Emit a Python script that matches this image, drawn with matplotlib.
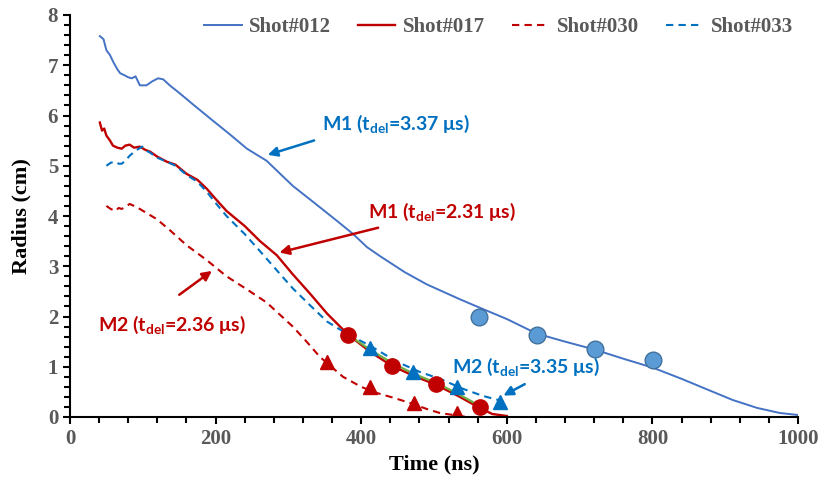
import matplotlib
matplotlib.use('Agg')
import matplotlib.pyplot as plt
from matplotlib.ticker import MultipleLocator

# time (ns) / radius (cm)
t012 = [41, 46, 50, 55, 60, 65, 69, 75, 80, 85, 90, 96, 105, 113, 121, 128, 137, 150, 169, 196,
        220, 243, 270, 306, 334, 367, 389, 408, 426, 460, 490, 536, 562, 600, 641, 680, 721, 760,
        801, 840, 875, 910, 944, 975, 1000]
r012 = [7.58, 7.52, 7.3, 7.2, 7.05, 6.92, 6.84, 6.8, 6.76, 6.74, 6.78, 6.6, 6.6, 6.68, 6.74, 6.72,
        6.6, 6.45, 6.22, 5.9, 5.62, 5.34, 5.1, 4.6, 4.28, 3.9, 3.64, 3.38, 3.2, 2.88, 2.64, 2.34,
        2.18, 1.95, 1.66, 1.5, 1.34, 1.16, 0.98, 0.76, 0.55, 0.34, 0.18, 0.08, 0.04]

t017 = [41, 44, 47, 50, 55, 59, 65, 71, 76, 82, 88, 96, 103, 110, 120, 133, 145, 160, 175, 188,
        200, 215, 240, 261, 284, 306, 330, 353, 382, 412, 442, 472, 503, 533, 563, 580, 600]
r017 = [5.86, 5.7, 5.74, 5.6, 5.5, 5.4, 5.36, 5.34, 5.4, 5.42, 5.36, 5.38, 5.32, 5.28, 5.18, 5.08,
        5.02, 4.84, 4.72, 4.54, 4.34, 4.1, 3.8, 3.5, 3.22, 2.84, 2.45, 2.06, 1.64, 1.3, 1.02, 0.82,
        0.64, 0.42, 0.18, 0.06, 0.02]

t030 = [50, 56, 62, 67, 71, 76, 82, 88, 96, 105, 119, 137, 160, 188, 215, 243, 270, 306, 325, 343,
        375, 400, 421, 445, 467, 490, 508, 531, 545]
r030 = [4.2, 4.14, 4.1, 4.16, 4.14, 4.18, 4.24, 4.2, 4.14, 4.06, 3.94, 3.72, 3.42, 3.12, 2.8, 2.54,
        2.28, 1.8, 1.5, 1.2, 0.8, 0.6, 0.48, 0.38, 0.28, 0.16, 0.08, 0.03, 0.0]

t033 = [50, 56, 62, 67, 71, 76, 82, 90, 99, 105, 110, 120, 133, 145, 160, 175, 188, 200, 215, 240,
        261, 284, 306, 330, 353, 380, 412, 449, 480, 508, 540, 567, 588]
r033 = [5.0, 5.06, 5.08, 5.04, 5.04, 5.1, 5.2, 5.3, 5.38, 5.3, 5.26, 5.16, 5.08, 5.0, 4.82, 4.68,
        4.48, 4.26, 4.0, 3.64, 3.3, 2.92, 2.56, 2.22, 1.9, 1.66, 1.42, 1.1, 0.9, 0.76, 0.56, 0.42,
        0.34]

# fit line (green)
t_fit = [382, 412, 442, 472, 503, 533, 563]
r_fit = [1.64, 1.34, 1.08, 0.86, 0.68, 0.46, 0.22]

# model points
t_m012 = [562, 641, 721, 801]
r_m012 = [2.0, 1.64, 1.36, 1.14]
t_m017 = [382, 442, 503, 563]
r_m017 = [1.64, 1.02, 0.66, 0.2]
t_m030 = [353, 412, 472, 531]
r_m030 = [1.1, 0.6, 0.28, 0.08]
t_m033 = [412, 471, 531, 591]
r_m033 = [1.38, 0.9, 0.6, 0.3]

serif = 'Liberation Serif'
sans = ['Lato', 'DejaVu Sans']
plt.rcParams['mathtext.fontset'] = 'custom'
plt.rcParams['mathtext.bf'] = 'Lato:bold'
plt.rcParams['mathtext.rm'] = 'Lato:bold'

fig = plt.figure(figsize=(8.22, 4.87), dpi=100)
ax = fig.add_axes([70/822, 1-417/487, 728/822, 402/487])

blue = '#4472C4'
red = '#C00000'
lblue = '#0070C0'

ax.plot(t012, r012, color=blue, lw=1.4, label='Shot#012')
ax.plot(t017, r017, color=red, lw=1.7, label='Shot#017')
ax.plot(t030, r030, color=red, lw=1.5, ls=(0, (3.5, 2.5)), label='Shot#030')
ax.plot(t033, r033, color=lblue, lw=1.5, ls=(0, (3.5, 2.5)), label='Shot#033')
ax.plot(t_fit, r_fit, color='#70AD47', lw=1.6)

ax.plot(t_m012, r_m012, 'o', ms=12, mfc='#5B9BD5', mec='#41719C', mew=1)
ax.plot(t_m017, r_m017, 'o', ms=11, mfc=red, mec=red)
ax.plot(t_m030, r_m030, '^', ms=10, mfc=red, mec=red)
ax.plot(t_m033, r_m033, '^', ms=10, mfc=lblue, mec=lblue)

def note(text, xy, xytext, tx, ty, color):
    ax.annotate('', xy=xy, xytext=xytext,
                arrowprops=dict(arrowstyle='-|>', color=color, lw=1.8, mutation_scale=14))
    ax.text(tx, ty, text, color=color, fontsize=14, fontweight='bold', family=sans,
            va='center', ha='left')

note(r'M1 (t$_{\mathbf{del}}$=3.37 μs)', (268, 5.2), (339, 5.52), 346, 5.84, lblue)
note(r'M1 (t$_{\mathbf{del}}$=2.31 μs)', (284, 3.26), (427, 3.78), 409, 4.08, red)
note(r'M2 (t$_{\mathbf{del}}$=2.36 μs)', (198, 2.94), (147, 2.4), 38, 1.84, red)
note(r'M2 (t$_{\mathbf{del}}$=3.35 μs)', (592, 0.4), (628, 0.68), 525, 1.0, lblue)

ax.set_xlim(0, 1000)
ax.set_ylim(0, 8)
ax.xaxis.set_major_locator(MultipleLocator(200))
ax.xaxis.set_minor_locator(MultipleLocator(40))
ax.yaxis.set_major_locator(MultipleLocator(1))
ax.yaxis.set_minor_locator(MultipleLocator(0.2))
ax.tick_params(which='both', direction='out', width=1.5, color='black')
ax.tick_params(which='major', length=5, labelsize=15, labelcolor='#595959')
ax.tick_params(which='minor', length=4)
for lab in ax.get_xticklabels() + ax.get_yticklabels():
    lab.set_family(serif)
    lab.set_fontweight('bold')
for s in ['top', 'right']:
    ax.spines[s].set_visible(False)
for s in ['left', 'bottom']:
    ax.spines[s].set_linewidth(1.5)

ax.set_xlabel('Time (ns)', family=serif, fontweight='bold', fontsize=16, labelpad=4)
ax.set_ylabel('Radius (cm)', family=serif, fontweight='bold', fontsize=16, labelpad=12)

leg = fig.legend(loc='center left', bbox_to_anchor=(204/822, 1-27/487), ncol=4, frameon=False,
                 handlelength=1.8, handletextpad=0.35, columnspacing=1.3, borderpad=0,
                 borderaxespad=0, prop={'family': serif, 'weight': 'bold', 'size': 15})
for txt in leg.get_texts():
    txt.set_color('#595959')

fig.savefig('out.png', dpi=100)
